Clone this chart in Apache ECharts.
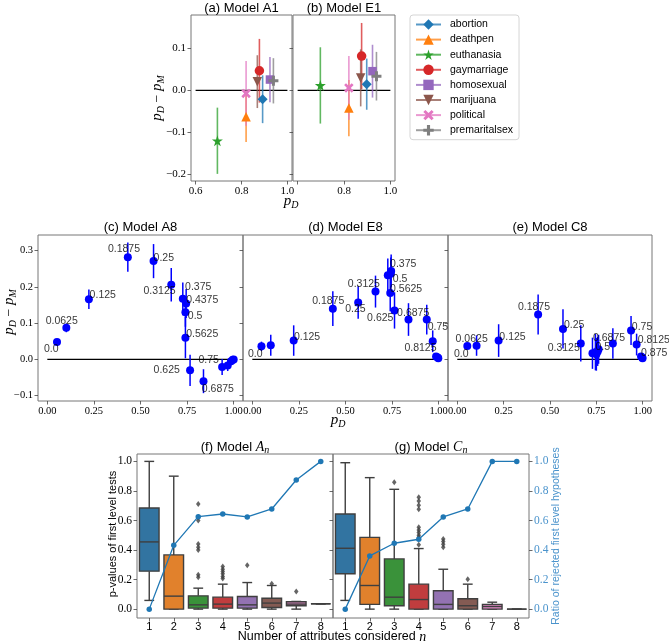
<!DOCTYPE html>
<html><head><meta charset="utf-8">
<script src="https://cdn.jsdelivr.net/npm/echarts@6/dist/echarts.min.js"></script>
<style>html,body{margin:0;padding:0;background:#fff}#c{width:669px;height:644px}</style>
</head><body><div id="c"></div>
<script>
// ---------- top row: models A1 / E1 ----------
const categories = ['abortion','deathpen','euthanasia','gaymarriage','homosexual','marijuana','political','premaritalsex'];
const a1X   = [0.892, 0.820, 0.695, 0.878, 0.924, 0.869, 0.820, 0.939];
const a1Y   = [-0.021, -0.063, -0.120, 0.047, 0.026, 0.021, -0.007, 0.023];
const a1Err = [0.057, 0.060, 0.079, 0.076, 0.054, 0.063, 0.077, 0.054];
const e1X   = [0.898, 0.821, 0.698, 0.876, 0.923, 0.872, 0.821, 0.940];
const e1Y   = [0.015, -0.042, 0.012, 0.082, 0.046, 0.030, 0.006, 0.034];
const e1Err = [0.061, 0.067, 0.091, 0.079, 0.063, 0.068, 0.076, 0.058];
const hlineTop = [[0.6, 0], [1.0, 0]];
const topXTicks = [0.6, 0.8, 1.0];
const topXTicksB = [0.8, 1.0];
const topYTicks = [-0.2, -0.1, 0.0, 0.1];

// ---------- middle row: models A8 / E8 / C8 ----------
const thresholds = ['0.0','0.0625','0.125','0.1875','0.25','0.3125','0.375','0.4375','0.5','0.5625','0.625','0.6875','0.75','0.8125','0.875','0.9375','1.0'];
const a8X   = [0.052, 0.102, 0.223, 0.432, 0.570, 0.665, 0.727, 0.745, 0.741, 0.741, 0.766, 0.838, 0.938, 0.968, 0.986, 0.995, 1.000];
const a8Y   = [0.048, 0.087, 0.166, 0.282, 0.271, 0.206, 0.167, 0.154, 0.130, 0.060, -0.030, -0.060, -0.021, -0.017, -0.005, -0.001, 0.000];
const a8Err = [0.006, 0.012, 0.027, 0.040, 0.047, 0.046, 0.045, 0.040, 0.040, 0.057, 0.043, 0.033, 0.022, 0.015, 0.008, 0.004, 0.002];
const a8LabelX = [-0.018, -0.009, 0.227, 0.325, 0.570, 0.516, 0.739, 0.745, 0.754, 0.745, 0.570, 0.829, 0.811, null, null, null, null];
const a8LabelY = [0.028, 0.106, 0.176, 0.304, 0.279, 0.187, 0.199, 0.163, 0.120, 0.071, -0.030, -0.081, -0.001, null, null, null, null];

const e8X   = [0.049, 0.099, 0.222, 0.432, 0.568, 0.661, 0.727, 0.745, 0.743, 0.740, 0.763, 0.838, 0.936, 0.968, 0.986, 0.995, 0.998];
const e8Y   = [0.036, 0.039, 0.052, 0.140, 0.157, 0.187, 0.232, 0.244, 0.236, 0.183, 0.135, 0.110, 0.110, 0.050, 0.008, 0.005, 0.003];
const e8Err = [0.013, 0.029, 0.042, 0.048, 0.045, 0.044, 0.046, 0.045, 0.045, 0.050, 0.050, 0.045, 0.041, 0.030, 0.008, 0.005, 0.003];
const e8LabelX = [-0.023, null, 0.223, 0.321, 0.498, 0.5125, 0.739, null, 0.754, 0.739, 0.616, 0.777, 0.941, 0.816, null, null, null];
const e8LabelY = [0.016, null, 0.062, 0.161, 0.138, 0.207, 0.262, null, 0.221, 0.194, 0.114, 0.129, 0.090, 0.030, null, null, null];

const c8X   = [0.054, 0.104, 0.223, 0.436, 0.570, 0.666, 0.729, 0.745, 0.750, 0.762, 0.757, 0.839, 0.937, 0.967, 0.991, 0.997, 0.999];
const c8Y   = [0.037, 0.038, 0.052, 0.124, 0.084, 0.044, 0.017, 0.020, 0.014, 0.028, 0.022, 0.044, 0.080, 0.041, 0.008, 0.005, 0.003];
const c8Err = [0.008, 0.028, 0.045, 0.055, 0.054, 0.050, 0.043, 0.050, 0.045, 0.040, 0.040, 0.042, 0.040, 0.030, 0.010, 0.005, 0.003];
const c8LabelX = [-0.018, -0.009, 0.227, 0.327, 0.575, 0.4875, null, null, 0.745, null, null, 0.732, 0.941, 0.973, 0.991, null, null];
const c8LabelY = [0.016, 0.057, 0.062, 0.145, 0.094, 0.032, null, null, 0.034, null, null, 0.060, 0.090, 0.053, 0.018, null, null];

const hlineMid = [[0, 0], [1, 0]];
const midXTicks = [0, 0.25, 0.5, 0.75, 1.0];
const midYTicks = [-0.1, 0, 0.1, 0.2, 0.3];

// ---------- bottom row: models An / Cn ----------
const nAttr = ['1','2','3','4','5','6','7','8'];
// [min, Q1, median, Q3, max]
const fBox = [
  [0.059, 0.257, 0.455, 0.685, 1.000],
  [0.000, 0.000, 0.088, 0.367, 0.900],
  [0.000, 0.007, 0.029, 0.090, 0.142],
  [0.000, 0.007, 0.034, 0.081, 0.169],
  [0.000, 0.007, 0.029, 0.086, 0.180],
  [0.000, 0.011, 0.041, 0.074, 0.160],
  [0.000, 0.023, 0.034, 0.050, 0.052],
  [0.036, 0.036, 0.036, 0.036, 0.036]
];
const fOutliers = [['3',0.712],['3',0.622],['3',0.600],['3',0.441],['3',0.419],['3',0.400],['3',0.232],['3',0.216],
  ['4',0.288],['4',0.270],['4',0.255],['4',0.239],['4',0.221],['4',0.207],['5',0.297],['6',0.171],['7',0.120]];
const fRatio = [0.000, 0.432, 0.626, 0.644, 0.624, 0.678, 0.874, 1.000];
const gBox = [
  [0.059, 0.239, 0.412, 0.644, 0.991],
  [0.000, 0.032, 0.160, 0.486, 0.890],
  [0.000, 0.023, 0.081, 0.340, 0.811],
  [0.000, 0.000, 0.065, 0.169, 0.410],
  [0.000, 0.000, 0.032, 0.124, 0.270],
  [0.000, 0.000, 0.023, 0.070, 0.169],
  [0.000, 0.000, 0.018, 0.032, 0.047],
  [0.000, 0.000, 0.000, 0.000, 0.000]
];
const gOutliers = [['3',0.858],['4',0.757],['4',0.732],['4',0.703],['4',0.676],['4',0.554],['4',0.536],['4',0.518],['4',0.500],['4',0.486],['4',0.435],
  ['5',0.475],['5',0.457],['5',0.439],['5',0.419],['6',0.203]];
const gRatio = [0.000, 0.360, 0.446, 0.473, 0.624, 0.678, 1.000, 1.000];
const botYTicks = [0, 0.2, 0.4, 0.6, 0.8, 1.0];

// ---------- styles ----------
const SERIF = '"Liberation Serif", "DejaVu Serif", serif';
const SANS = '"Liberation Sans", "DejaVu Sans", sans-serif';
const tab10 = ['#1f77b4','#ff7f0e','#2ca02c','#d62728','#9467bd','#8c564b','#e377c2','#7f7f7f'];
const boxColors = ['#3274a1','#e1812c','#3a923a','#c03d3e','#9372b2','#845b53','#d684bd','#7f7f7f'];
const markers = ['diamond','triangle','path://M50,0 L61.8,35.4 L100,35.4 L69.1,57.3 L80.9,92.7 L50,70.8 L19.1,92.7 L30.9,57.3 L0,35.4 L38.2,35.4 Z',
  'circle','rect','path://M0,0 L100,0 L50,86.6 Z',
  'path://M20,0 L50,30 L80,0 L100,20 L70,50 L100,80 L80,100 L50,70 L20,100 L0,80 L30,50 L0,20 Z',
  'path://M35,0 H65 V35 H100 V65 H65 V100 H35 V65 H0 V35 H35 Z'];
const markerSizes = [10, 9.5, 11, 9.5, 8.5, 9.5, 9.5, 10];
const SPINE = '#777';
const TICK = '#444';
const RIGHTBLUE = '#4a93cc';

const fmt = d => v => { const s = Math.abs(v).toFixed(d); return v < -1e-9 ? '\u2212' + s : s; };

const grids = [
  {left:191, top:15, width:101, height:166},
  {left:293, top:15, width:102, height:166},
  {left:38, top:235, width:205, height:166},
  {left:243, top:235, width:205, height:166},
  {left:448, top:235, width:204, height:166},
  {left:137, top:454, width:196, height:164},
  {left:333, top:454, width:196, height:164}
].map(g => Object.assign({show:true, borderColor:SPINE, borderWidth:1, backgroundColor:'transparent', containLabel:false}, g));

function vAxis(gridIndex, min, max, ticks, labelTicks, decimals, fontSize, extra) {
  return Object.assign({
    type:'value', gridIndex, min, max,
    axisLine:{show:false, onZero:false}, splitLine:{show:false},
    axisTick:{show:true, length:3.5, lineStyle:{color:TICK, width:0.8}, customValues:ticks},
    axisLabel:{show:labelTicks.length > 0, customValues:labelTicks, formatter:fmt(decimals),
      fontFamily:SERIF, fontSize, color:'#000', margin:5}
  }, extra || {});
}
function cAxis(gridIndex) {
  return {
    type:'category', gridIndex, data:nAttr, boundaryGap:true,
    axisLine:{show:false, onZero:false}, splitLine:{show:false},
    axisTick:{show:true, alignWithLabel:true, length:3.5, lineStyle:{color:TICK, width:0.8}},
    axisLabel:{fontFamily:SANS, fontSize:11, color:'#000', margin:3}
  };
}

const xAxes = [
  vAxis(0, 0.58, 1.02, topXTicks, topXTicks, 1, 11),
  vAxis(1, 0.58, 1.02, topXTicks, topXTicksB, 1, 11),
  vAxis(2, -0.05, 1.05, midXTicks, midXTicks, 2, 10.5),
  vAxis(3, -0.05, 1.05, midXTicks, midXTicks, 2, 10.5),
  vAxis(4, -0.05, 1.05, midXTicks, midXTicks, 2, 10.5),
  cAxis(5), cAxis(6)
];
const yAxes = [
  vAxis(0, -0.216, 0.18, topYTicks, topYTicks, 1, 11),
  vAxis(1, -0.216, 0.18, topYTicks, [], 1, 11),
  vAxis(2, -0.1146, 0.343, midYTicks, midYTicks, 1, 10.5),
  vAxis(3, -0.1146, 0.343, midYTicks, [], 1, 10.5),
  vAxis(4, -0.1146, 0.343, midYTicks, [], 1, 10.5),
  vAxis(5, -0.06, 1.05, botYTicks, botYTicks, 1, 11.5),
  vAxis(6, -0.06, 1.05, botYTicks, [], 1, 11.5),
  vAxis(6, -0.06, 1.05, botYTicks, botYTicks, 1, 11.5, {position:'right'})
];
yAxes[7].axisLabel.color = RIGHTBLUE;

const series = [];

function errRender(colorFn, width, opacity) {
  return function (params, api) {
    const x = api.value(0), y = api.value(1), e = api.value(2);
    const p1 = api.coord([x, y - e]), p2 = api.coord([x, y + e]);
    return {type:'line', shape:{x1:p1[0], y1:p1[1], x2:p2[0], y2:p2[1]},
      style:{stroke:colorFn(api.value(3)), lineWidth:width, opacity:opacity}};
  };
}

// top row
[[a1X, a1Y, a1Err], [e1X, e1Y, e1Err]].forEach((d, gi) => {
  series.push({type:'line', xAxisIndex:gi, yAxisIndex:gi, data:hlineTop, symbol:'none', silent:true,
    lineStyle:{color:'#000', width:1.2}, z:1});
  series.push({type:'custom', xAxisIndex:gi, yAxisIndex:gi, silent:true, z:2,
    data:categories.map((c, i) => [d[0][i], d[1][i], d[2][i], i]),
    encode:{x:0, y:1}, renderItem:errRender(i => tab10[i], 1.6, 0.75)});
  categories.forEach((c, i) => {
    series.push({name:c, type:'line', xAxisIndex:gi, yAxisIndex:gi, data:[[d[0][i], d[1][i]]],
      symbol:markers[i], symbolSize:markerSizes[i], itemStyle:{color:tab10[i], opacity:1},
      lineStyle:{color:tab10[i], width:1.5, opacity:0.75}, z:3, animation:false});
  });
});

// middle row
[[a8X, a8Y, a8Err, a8LabelX, a8LabelY], [e8X, e8Y, e8Err, e8LabelX, e8LabelY], [c8X, c8Y, c8Err, c8LabelX, c8LabelY]].forEach((d, k) => {
  const gi = k + 2;
  series.push({type:'line', xAxisIndex:gi, yAxisIndex:gi, data:hlineMid, symbol:'none', silent:true,
    lineStyle:{color:'#000', width:1.2}, z:1});
  series.push({type:'custom', xAxisIndex:gi, yAxisIndex:gi, silent:true, z:2,
    data:d[0].map((x, i) => [x, d[1][i], d[2][i], 0]),
    encode:{x:0, y:1}, renderItem:errRender(() => '#0000ff', 1.5, 1)});
  series.push({type:'scatter', xAxisIndex:gi, yAxisIndex:gi, data:d[0].map((x, i) => [x, d[1][i]]),
    symbol:'circle', symbolSize:8, itemStyle:{color:'#0000ff', opacity:1}, z:3});
  const lab = [];
  thresholds.forEach((t, i) => { if (d[3][i] !== null) lab.push([d[3][i], d[4][i], t]); });
  series.push({type:'scatter', xAxisIndex:gi, yAxisIndex:gi, data:lab, symbolSize:0, silent:true, z:5,
    label:{show:true, position:'right', distance:0, formatter:p => p.data[2],
      fontFamily:SANS, fontSize:10.5, color:'#000'}});
});

// bottom row
function boxRender(params, api) {
  const i = api.value(0);
  const mn = api.value(1), q1 = api.value(2), md = api.value(3), q3 = api.value(4), mx = api.value(5);
  const band = api.size([1, 0])[0];
  const hw = band * 0.8 / 2, cw = hw / 2;
  const pMn = api.coord([i, mn]), pQ1 = api.coord([i, q1]), pMd = api.coord([i, md]),
        pQ3 = api.coord([i, q3]), pMx = api.coord([i, mx]);
  const cx = pMd[0];
  const ls = {stroke:'#3f3f3f', lineWidth:1.4};
  return {type:'group', children:[
    {type:'line', shape:{x1:cx, y1:pQ3[1], x2:cx, y2:pMx[1]}, style:ls},
    {type:'line', shape:{x1:cx, y1:pQ1[1], x2:cx, y2:pMn[1]}, style:ls},
    {type:'line', shape:{x1:cx - cw, y1:pMx[1], x2:cx + cw, y2:pMx[1]}, style:ls},
    {type:'line', shape:{x1:cx - cw, y1:pMn[1], x2:cx + cw, y2:pMn[1]}, style:ls},
    {type:'rect', shape:{x:cx - hw, y:pQ3[1], width:2 * hw, height:Math.max(pQ1[1] - pQ3[1], 0)},
      style:{fill:boxColors[i], stroke:'#3f3f3f', lineWidth:1.4}},
    {type:'line', shape:{x1:cx - hw, y1:pMd[1], x2:cx + hw, y2:pMd[1]}, style:ls}
  ]};
}
[[fBox, fOutliers, fRatio, 5, 5], [gBox, gOutliers, gRatio, 6, 7]].forEach(d => {
  const gi = d[3];
  series.push({type:'custom', xAxisIndex:gi, yAxisIndex:gi, silent:true, z:2,
    data:d[0].map((b, i) => [i].concat(b)), encode:{x:0, y:[1,2,3,4,5]}, renderItem:boxRender});
  series.push({type:'scatter', xAxisIndex:gi, yAxisIndex:gi, data:d[1], symbol:'diamond', symbolSize:[4.5, 6],
    itemStyle:{color:'#3f3f3f'}, z:3});
  series.push({type:'line', xAxisIndex:gi, yAxisIndex:d[4], data:d[2], symbol:'circle', symbolSize:5.5,
    itemStyle:{color:'#1f77b4'}, lineStyle:{color:'#1f77b4', width:1.3}, z:4});
});

// texts
function t(text, x, y, size, extra) {
  return Object.assign({type:'text', x, y, silent:true,
    style:Object.assign({text, fontFamily:SANS, fontSize:size, fill:'#000', align:'center', verticalAlign:'middle'}, (extra && extra.style) || {})},
    extra && extra.rot ? {rotation:extra.rot} : {});
}
const mathRich = {
  p:{fontFamily:SERIF, fontStyle:'italic', fontSize:15},
  s:{fontFamily:SERIF, fontStyle:'italic', fontSize:10, padding:[8,0,0,0]},
  o:{fontFamily:SERIF, fontSize:14},
  t:{fontFamily:SANS, fontSize:13},
  T:{fontFamily:SANS, fontSize:12.5},
  A:{fontFamily:SERIF, fontStyle:'italic', fontSize:14},
  n:{fontFamily:SERIF, fontStyle:'italic', fontSize:10, padding:[7,0,0,0]},
  N:{fontFamily:SERIF, fontStyle:'italic', fontSize:14}
};
const pdpm = '{p|p}{s|D}{o| \u2212 }{p|p}{s|M}';
const graphic = [
  t('(a) Model A1', 241.5, 8, 13),
  t('(b) Model E1', 344, 8, 13),
  t('(c) Model A8', 140.5, 227, 13),
  t('(d) Model E8', 345.5, 227, 13),
  t('(e) Model C8', 550, 227, 13),
  t('', 235, 447, 13, {style:{text:'{t|(f) Model }{A|A}{n|n}', rich:mathRich}}),
  t('', 431, 447, 13, {style:{text:'{t|(g) Model }{A|C}{n|n}', rich:mathRich}}),
  t('', 157, 98, 14, {rot:Math.PI / 2, style:{text:pdpm, rich:mathRich}}),
  t('', 291, 201, 14, {style:{text:'{p|p}{s|D}', rich:mathRich}}),
  t('', 9, 312, 14, {rot:Math.PI / 2, style:{text:pdpm, rich:mathRich}}),
  t('', 338, 420, 14, {style:{text:'{p|p}{s|D}', rich:mathRich}}),
  t('p-values of first level tests', 113, 534, 11, {rot:Math.PI / 2}),
  t('Ratio of rejected first level hypotheses', 556, 536, 10.5, {rot:Math.PI / 2, style:{fill:RIGHTBLUE}}),
  t('', 332, 637, 12.5, {style:{text:'{T|Number of attributes considered }{N|n}', rich:mathRich}})
];

const chart = echarts.init(document.getElementById('c'), null, {renderer:'canvas'});
chart.setOption({
  animation:false,
  backgroundColor:'#fff',
  grid:grids, xAxis:xAxes, yAxis:yAxes, series, graphic,
  legend:{data:categories, orient:'vertical', left:410, top:15, itemWidth:25, itemHeight:13, itemGap:4.1,
    padding:[4, 6, 4, 5], borderColor:'#d5d5d5', borderWidth:1, borderRadius:3, backgroundColor:'#fff',
    textStyle:{fontFamily:SANS, fontSize:10.5, color:'#000', padding:[0, 0, 0, 4]}, selectedMode:false}
});
</script></body></html>
